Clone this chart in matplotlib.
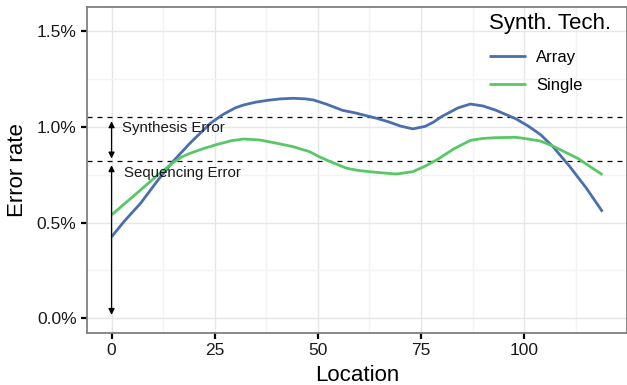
import matplotlib
matplotlib.use("Agg")
import matplotlib.pyplot as plt
from matplotlib.ticker import FixedLocator, FuncFormatter

plt.rcParams['font.family'] = ['Liberation Sans', 'DejaVu Sans']

# ---- data ----
array_x = [0, 3, 7, 11, 15, 19, 24, 27, 30, 32, 35, 38, 41, 44, 47, 49, 52, 56, 59, 61, 64, 67, 70, 73, 76, 78, 80, 84, 87, 90, 93, 98, 101, 104, 107, 111, 115, 119]
array_y = [0.425, 0.505, 0.60, 0.715, 0.822, 0.915, 1.02, 1.065, 1.10, 1.115, 1.13, 1.14, 1.147, 1.15, 1.147, 1.141, 1.12, 1.087, 1.074, 1.063, 1.047, 1.028, 1.005, 0.99, 1.003, 1.025, 1.054, 1.10, 1.12, 1.11, 1.089, 1.043, 1.005, 0.96, 0.897, 0.795, 0.683, 0.557]

single_x = [0, 7, 11, 15, 17, 19, 22, 25, 29, 32, 36, 40, 44, 48, 50, 53, 57, 60, 64, 69, 73, 76, 79, 83, 87, 90, 93, 98, 101, 104, 107, 113, 119]
single_y = [0.54, 0.67, 0.745, 0.815, 0.843, 0.862, 0.885, 0.905, 0.928, 0.937, 0.932, 0.915, 0.897, 0.871, 0.848, 0.819, 0.784, 0.772, 0.763, 0.754, 0.766, 0.795, 0.83, 0.886, 0.93, 0.94, 0.944, 0.946, 0.937, 0.926, 0.90, 0.836, 0.75]

series_names = ["Array", "Single"]
series_colors = ["#4b6ead", "#58c866"]
legend_title = "Synth. Tech."

synthesis_level = 1.05
sequencing_level = 0.82
synth_arrow = (1.03, 0.835)
seq_arrow = (0.80, 0.017)
annot_labels = ["Synthesis Error", "Sequencing Error"]
annot_pos = [(2.6, 0.995), (2.9, 0.76)]

x_ticks = [0, 25, 50, 75, 100]
y_ticks = [0.0, 0.5, 1.0, 1.5]

# ---- figure ----
fig = plt.figure(figsize=(6.27, 3.85), dpi=100)
ax = fig.add_axes([87/627, 52/385, 540/627, 326/385])

ax.set_xlim(-5.95, 124.95)
ax.set_ylim(-0.0775, 1.6275)

# grid
ax.set_axisbelow(True)
ax.xaxis.set_major_locator(FixedLocator(x_ticks))
ax.yaxis.set_major_locator(FixedLocator(y_ticks))
ax.xaxis.set_minor_locator(FixedLocator([12.5, 37.5, 62.5, 87.5, 112.5]))
ax.yaxis.set_minor_locator(FixedLocator([0.25, 0.75, 1.25]))
ax.grid(which='major', color='#e6e6e6', linewidth=1.0)
ax.grid(which='minor', color='#f3f3f3', linewidth=1.0)
ax.tick_params(which='minor', length=0)
ax.tick_params(which='major', length=4.5, width=1.6, color='black',
               labelsize=12.5, labelcolor='#1a1a1a')
ax.tick_params(axis='y', pad=3)
ax.tick_params(axis='x', pad=3)
ax.yaxis.set_major_formatter(FuncFormatter(lambda v, p: f"{v:.1f}%"))
for s in ax.spines.values():
    s.set_color('#7f7f7f')
    s.set_linewidth(1.3)

# dashed lines
for lvl in (synthesis_level, sequencing_level):
    ax.axhline(lvl, color='black', linewidth=0.9, linestyle=(0, (4, 4)))

# series
ax.plot(array_x, array_y, color=series_colors[0], linewidth=2.0, label=series_names[0],
        solid_capstyle='butt', solid_joinstyle='round')
ax.plot(single_x, single_y, color=series_colors[1], linewidth=2.0, label=series_names[1],
        solid_capstyle='butt', solid_joinstyle='round')

# arrows
for (y0, y1) in (synth_arrow, seq_arrow):
    ax.annotate('', xy=(0, y1), xytext=(0, y0),
                arrowprops=dict(arrowstyle='<|-|>', color='black', lw=0.9,
                                mutation_scale=9, shrinkA=0, shrinkB=0))
for lab, (tx, ty) in zip(annot_labels, annot_pos):
    ax.text(tx, ty, lab, fontsize=10.8, va='center', ha='left', color='#1a1a1a')

ax.set_xlabel("Location", fontsize=16, labelpad=5)
ax.set_ylabel("Error rate", fontsize=16, labelpad=6)

leg = ax.legend(title=legend_title, loc='upper right', frameon=False,
                bbox_to_anchor=(1 - 10/540, 1.0),
                fontsize=12, title_fontsize=16, handlelength=2.2,
                borderaxespad=0.0, borderpad=0.34, labelspacing=0.78,
                handletextpad=0.6)
leg._legend_box.align = "left"
leg._legend_box.sep = 11.5

fig.savefig("out.png", dpi=100)
